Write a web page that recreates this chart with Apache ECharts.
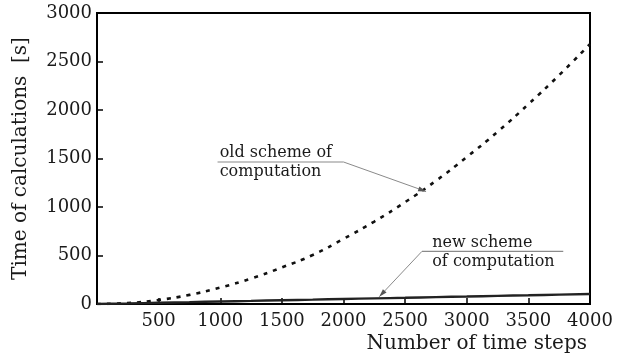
<!DOCTYPE html>
<html>
<head>
<meta charset="utf-8">
<script src="https://cdn.jsdelivr.net/npm/echarts@6/dist/echarts.min.js"></script>
<style>
html,body{margin:0;padding:0;background:#fff;}
#chart{width:629px;height:357px;}
</style>
</head>
<body>
<div id="chart"></div>
<script>
// ---- data ----
var timeSteps = [0, 250, 500, 750, 1000, 1250, 1500, 1750, 2000, 2250, 2500, 2750, 3000, 3250, 3500, 3750, 4000];
var oldScheme = [0, 10, 42, 94, 170, 262, 377, 505, 672, 850, 1050, 1270, 1515, 1775, 2060, 2360, 2680];
var newScheme = [0, 6, 13, 19, 26, 32, 39, 45, 52, 58, 64, 71, 77, 84, 90, 97, 103];
var xTicks = [500, 1000, 1500, 2000, 2500, 3000, 3500, 4000];
var yTicks = [0, 500, 1000, 1500, 2000, 2500, 3000];
var xTitle = 'Number of time steps';
var yTitle = 'Time of calculations  [s]';
var oldLabel = ['old scheme of', 'computation'];
var newLabel = ['new scheme', 'of computation'];

var FONT = '"DejaVu Serif", "Liberation Serif", serif';

function pairs(xs, ys) { return xs.map(function (x, i) { return [x, ys[i]]; }); }

var chart = echarts.init(document.getElementById('chart'), null, {renderer: 'canvas'});
chart.setOption({
  animation: false,
  backgroundColor: '#fff',
  grid: {left: 97, right: 39, top: 13, bottom: 53, show: true, borderColor: '#000', borderWidth: 2, backgroundColor: 'transparent'},
  xAxis: {
    type: 'value', min: 0, max: 4000, interval: 500,
    name: xTitle, nameLocation: 'end', nameGap: -3,
    nameTextStyle: {fontFamily: FONT, fontSize: 20, color: '#1a1a1a', align: 'right', verticalAlign: 'top', padding: [30, 0, 0, 0]},
    axisLine: {show: true, lineStyle: {color: '#000', width: 2}},
    axisTick: {show: true, inside: true, length: 6, lineStyle: {color: '#000', width: 1.5}},
    axisLabel: {fontFamily: FONT, fontSize: 18, color: '#1a1a1a', margin: 8,
      formatter: function (v) { return xTicks.indexOf(v) >= 0 ? String(v) : ''; }},
    splitLine: {show: false}
  },
  yAxis: {
    type: 'value', min: 0, max: 3000, interval: 500,
    name: yTitle, nameLocation: 'middle', nameGap: 66,
    nameTextStyle: {fontFamily: FONT, fontSize: 20, color: '#1a1a1a'},
    axisLine: {show: true, lineStyle: {color: '#000', width: 2}},
    axisTick: {show: true, inside: true, length: 6, lineStyle: {color: '#000', width: 1.5}},
    axisLabel: {fontFamily: FONT, fontSize: 18, color: '#1a1a1a', margin: 5,
      formatter: function (v) { return yTicks.indexOf(v) >= 0 ? String(v) : ''; }},
    splitLine: {show: false}
  },
  series: [
    {type: 'line', data: pairs(timeSteps, oldScheme), smooth: true, showSymbol: false,
     lineStyle: {color: '#111', width: 2.6, type: [4, 6]}},
    {type: 'line', data: pairs(timeSteps, newScheme), smooth: true, showSymbol: false,
     lineStyle: {color: '#222', width: 2.4}}
  ]
});

// ---- annotations anchored in data coordinates ----
function px(p) { return chart.convertToPixel({gridIndex: 0}, p); }
function arrowHead(tip, from, color) {
  var dx = tip[0] - from[0], dy = tip[1] - from[1];
  var L = Math.sqrt(dx * dx + dy * dy); dx /= L; dy /= L;
  var len = 8, w = 2.5;
  var bx = tip[0] - dx * len, by = tip[1] - dy * len;
  return {type: 'polygon', shape: {points: [tip, [bx - dy * w, by + dx * w], [bx + dy * w, by - dx * w]]}, style: {fill: color}, z: 100};
}
function annotation(lines, lineStart, lineEnd, arrowFrom, arrowTip, textX) {
  var a = px(lineStart), b = px(lineEnd), f = px(arrowFrom), t = px(arrowTip), tx = px([textX, lineStart[1]])[0];
  var gray = '#8a8a8a';
  return [
    {type: 'line', shape: {x1: a[0], y1: a[1], x2: b[0], y2: b[1]}, style: {stroke: gray, lineWidth: 1.2}, z: 100},
    {type: 'line', shape: {x1: f[0], y1: f[1], x2: t[0], y2: t[1]}, style: {stroke: gray, lineWidth: 1}, z: 100},
    arrowHead(t, f, '#555'),
    {type: 'text', x: tx, y: a[1] - 1, style: {text: lines[0], font: '16px ' + FONT, fill: '#1a1a1a', textVerticalAlign: 'bottom'}, z: 100},
    {type: 'text', x: tx, y: a[1] + 2, style: {text: lines[1], font: '16px ' + FONT, fill: '#1a1a1a', textVerticalAlign: 'top'}, z: 100}
  ];
}
var g = [];
g = g.concat(annotation(oldLabel, [978, 1464], [2000, 1464], [2000, 1464], [2670, 1160], 995));
g = g.concat(annotation(newLabel, [2636, 542], [3783, 542], [2636, 542], [2290, 75], 2720));
chart.setOption({graphic: g});
</script>
</body>
</html>
